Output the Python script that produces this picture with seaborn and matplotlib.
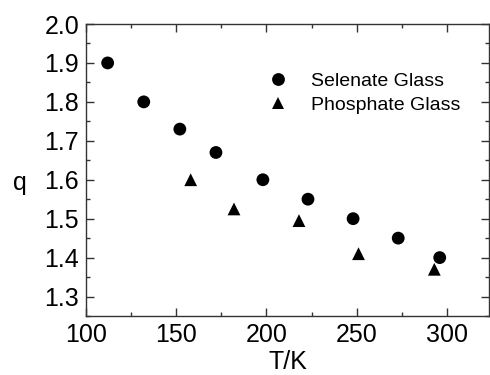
import matplotlib
matplotlib.use("Agg")
import matplotlib.pyplot as plt
import seaborn as sns
import pandas as pd
from matplotlib.ticker import MultipleLocator, FormatStrFormatter

# Nonextensive parameter q versus temperature for two glass systems
selenate_T = [112, 132, 152, 172, 198, 223, 248, 273, 296]
selenate_q = [1.90, 1.80, 1.73, 1.67, 1.60, 1.55, 1.50, 1.45, 1.40]
phosphate_T = [158, 182, 218, 251, 293]
phosphate_q = [1.60, 1.525, 1.495, 1.41, 1.37]
series_names = ["Selenate Glass", "Phosphate Glass"]

df = pd.concat([
    pd.DataFrame({"T": selenate_T, "q": selenate_q, "glass": series_names[0]}),
    pd.DataFrame({"T": phosphate_T, "q": phosphate_q, "glass": series_names[1]}),
], ignore_index=True)

sns.set_theme(style="ticks")
plt.rcParams["font.family"] = ["Liberation Sans", "DejaVu Sans"]
plt.rcParams["text.color"] = "black"
plt.rcParams["axes.labelcolor"] = "black"
plt.rcParams["xtick.labelcolor"] = "black"
plt.rcParams["ytick.labelcolor"] = "black"

fig = plt.figure(figsize=(4.9, 3.75), dpi=100)
ax = fig.add_axes([86 / 490, 59 / 375, 403 / 490, 292 / 375])

sns.scatterplot(
    data=df, x="T", y="q", hue="glass", style="glass",
    palette=["black", "black"], markers=["o", "^"],
    s=85, edgecolor="none", linewidth=0, ax=ax, legend=True,
)

ax.set_xlim(100, 323.3)
ax.set_ylim(1.25, 2.0)
ax.xaxis.set_major_locator(MultipleLocator(50))
ax.xaxis.set_minor_locator(MultipleLocator(25))
ax.yaxis.set_major_locator(MultipleLocator(0.1))
ax.yaxis.set_minor_locator(MultipleLocator(0.05))
ax.yaxis.set_major_formatter(FormatStrFormatter("%.1f"))

ax.tick_params(which="both", direction="in", top=True, right=True,
               labeltop=False, labelright=False, color="#333333")
ax.tick_params(which="major", length=6, width=1.0, labelsize=18, pad=5)
ax.tick_params(which="minor", length=3, width=1.0)
for sp in ax.spines.values():
    sp.set_visible(True)
    sp.set_linewidth(1.0)
    sp.set_color("#333333")

ax.set_xlabel("T/K", fontsize=18, labelpad=2)
ax.set_ylabel("q", fontsize=18, rotation=0, ha="center", va="baseline")
ax.yaxis.set_label_coords(20 / 490, 1 - 190 / 375, transform=fig.transFigure)

handles, labels = ax.get_legend_handles_labels()
ax.legend(handles, labels, frameon=False, fontsize=14, loc="upper left",
          bbox_to_anchor=(268 / 490, 1 - 72 / 375), bbox_transform=fig.transFigure,
          borderpad=0, borderaxespad=0, handlelength=1.0, handletextpad=1.2,
          labelspacing=0.35, markerscale=1.0)

fig.savefig("out.png", dpi=100)
